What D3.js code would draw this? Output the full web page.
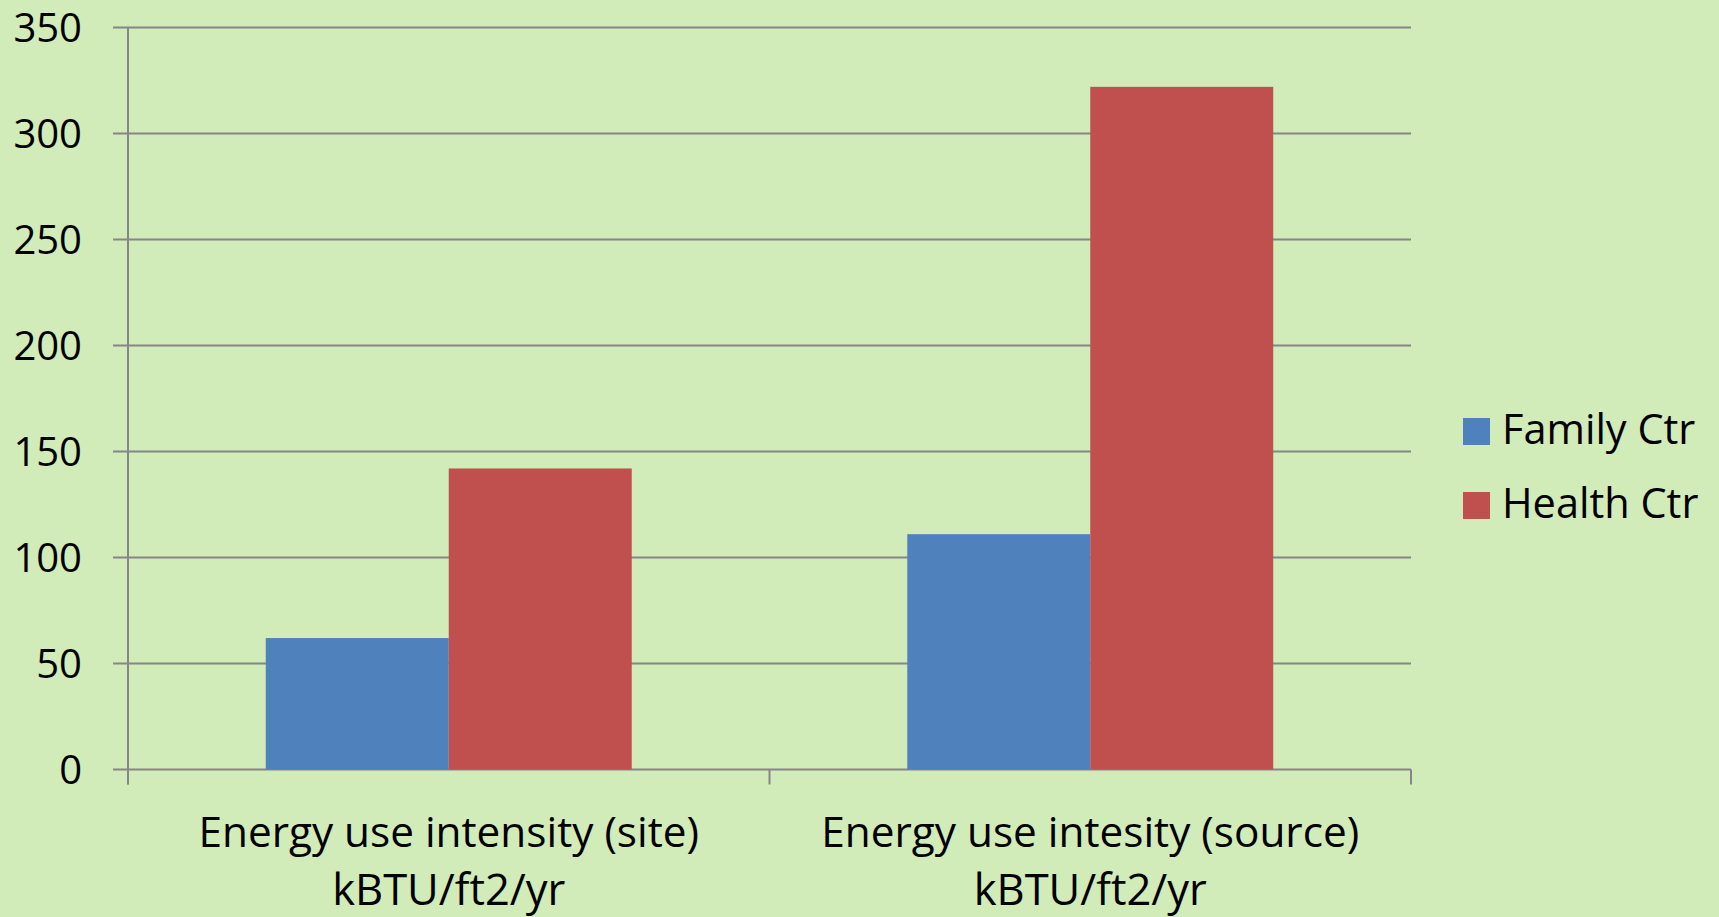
<!DOCTYPE html>
<html>
<head>
<meta charset="utf-8">
<script src="https://cdn.jsdelivr.net/npm/d3@7"></script>
<style>
  html, body { margin: 0; padding: 0; background: #d1ebb9; }
  svg { display: block; }
  text { font-family: "Open Sans", Lato, sans-serif; fill: #000; }
</style>
</head>
<body>
<svg id="chart" width="1719" height="917"></svg>
<script>
const categories = ["Energy use intensity (site)", "Energy use intesity (source)"];
const categorySubLabels = ["kBTU/ft2/yr", "kBTU/ft2/yr"];
const seriesNames = ["Family Ctr", "Health Ctr"];
const familyValues = [62, 111];
const healthValues = [142, 322];
const seriesColors = ["#4f81bd", "#c0504d"];
const yTicks = [0, 50, 100, 150, 200, 250, 300, 350];

const valuesBySeries = [familyValues, healthValues];

const svg = d3.select("#chart");
const W = 1719, H = 917;
svg.append("rect").attr("width", W).attr("height", H).attr("fill", "#d1ebb9");

const plotLeft = 128, plotRight = 1411, plotTop = 27.5, plotBottom = 769.5;
const gridColor = "#868686";
const fontSize = 40;

const x0 = d3.scaleBand().domain(categories).range([plotLeft, plotRight]).paddingInner(0).paddingOuter(0);
const x1 = d3.scaleBand().domain(seriesNames).range([0, x0.bandwidth()]).paddingInner(0).paddingOuter(0.753);
const y = d3.scaleLinear().domain([0, 350]).range([plotBottom, plotTop]);

// gridlines (including zero line)
svg.append("g").selectAll("line").data(yTicks).join("line")
  .attr("x1", plotLeft - 15).attr("x2", plotRight)
  .attr("y1", d => y(d)).attr("y2", d => y(d))
  .attr("stroke", gridColor).attr("stroke-width", 2);

// y axis line
svg.append("line")
  .attr("x1", plotLeft).attr("x2", plotLeft)
  .attr("y1", plotTop).attr("y2", plotBottom + 15)
  .attr("stroke", gridColor).attr("stroke-width", 2);

// category tick marks
const catTicks = categories.map(c => x0(c)).concat([x0(categories[categories.length - 1]) + x0.bandwidth()]);
svg.append("g").selectAll("line").data(catTicks).join("line")
  .attr("x1", d => d).attr("x2", d => d)
  .attr("y1", plotBottom).attr("y2", plotBottom + 15)
  .attr("stroke", gridColor).attr("stroke-width", 2);

// y tick labels
svg.append("g").selectAll("text").data(yTicks).join("text")
  .attr("x", 82).attr("y", d => y(d)).attr("dy", "0.35em")
  .attr("text-anchor", "end").attr("font-size", fontSize)
  .text(d => d);

// bars
const groups = svg.append("g").selectAll("g").data(categories).join("g")
  .attr("transform", c => `translate(${x0(c)},0)`);
groups.selectAll("rect").data((c, ci) => seriesNames.map((s, si) => ({ s, si, v: valuesBySeries[si][ci] })))
  .join("rect")
  .attr("x", d => x1(d.s)).attr("width", x1.bandwidth())
  .attr("y", d => y(d.v)).attr("height", d => y(0) - y(d.v))
  .attr("fill", d => seriesColors[d.si]);

// category labels
const catLabels = svg.append("g").selectAll("text").data(categories).join("text")
  .attr("text-anchor", "middle");
catLabels.append("tspan")
  .attr("x", c => x0(c) + x0.bandwidth() / 2).attr("y", 846.5)
  .attr("font-size", 42.3)
  .text(c => c);
catLabels.append("tspan")
  .attr("x", c => x0(c) + x0.bandwidth() / 2).attr("y", 905)
  .attr("font-size", 43.5)
  .text((c, i) => categorySubLabels[i]);

// legend
const legend = svg.append("g").selectAll("g").data(seriesNames).join("g")
  .attr("transform", (d, i) => `translate(1463,${418 + i * 74})`);
legend.append("rect").attr("width", 27).attr("height", 27)
  .attr("fill", (d, i) => seriesColors[i]);
legend.append("text").attr("x", 39).attr("y", 26)
  .attr("font-size", 41.5).text(d => d);
</script>
</body>
</html>
